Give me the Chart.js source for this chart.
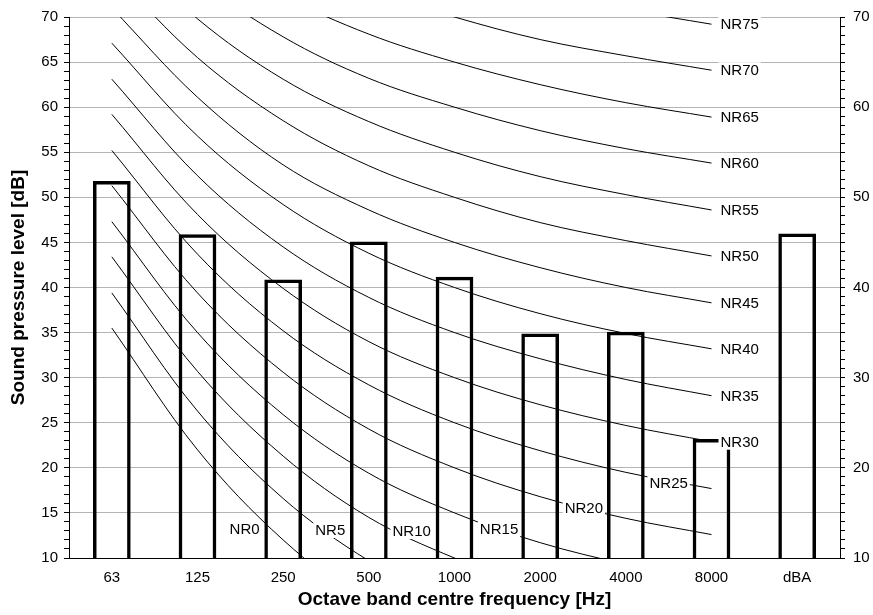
<!DOCTYPE html>
<html lang="en">
<head>
<meta charset="UTF-8">
<title>NR curves</title>
<style>
  html, body { margin: 0; padding: 0; background: #fff; }
  #wrap { width: 873px; height: 615px; }
</style>
</head>
<body>
<div id="wrap"><canvas id="nr-chart" width="873" height="615"></canvas></div>
<script src="https://cdn.jsdelivr.net/npm/chart.js@4.4.1/dist/chart.umd.min.js"></script>
<script>
// categories and measured levels
var bands = ["63", "125", "250", "500", "1000", "2000", "4000", "8000", "dBA"];
var measured = [51.8, 45.9, 40.9, 45.1, 41.2, 34.9, 35.1, 23.2, 46.0];

// NR rating curves, 63 Hz .. 8000 Hz
var nrLevels = [0, 5, 10, 15, 20, 25, 30, 35, 40, 45, 50, 55, 60, 65, 70, 75];
var nr0  = [35.5, 22.0, 12.0, 4.8, 0.0, -3.5, -6.1, -8.0];
var nr5  = [39.4, 26.3, 16.6, 9.7, 5.0, 1.6, -1.0, -2.8];
var nr10 = [43.4, 30.7, 21.3, 14.5, 10.0, 6.6, 4.2, 2.3];
var nr15 = [47.3, 35.0, 25.9, 19.4, 15.0, 11.7, 9.3, 7.4];
var nr20 = [51.3, 39.4, 30.6, 24.3, 20.0, 16.8, 14.4, 12.6];
var nr25 = [55.2, 43.7, 35.2, 29.2, 25.0, 21.9, 19.5, 17.7];
var nr30 = [59.2, 48.1, 39.9, 34.0, 30.0, 27.0, 24.7, 22.9];
var nr35 = [63.1, 52.4, 44.5, 38.9, 35.0, 32.1, 29.8, 28.0];
var nr40 = [67.1, 56.8, 49.2, 43.8, 40.0, 37.1, 34.9, 33.2];
var nr45 = [71.0, 61.1, 53.6, 48.6, 45.0, 42.2, 40.0, 38.3];
var nr50 = [75.0, 65.5, 58.5, 53.5, 50.0, 47.2, 45.2, 43.5];
var nr55 = [78.9, 69.8, 63.1, 58.4, 55.0, 52.3, 50.3, 48.6];
var nr60 = [82.9, 74.2, 67.8, 63.2, 60.0, 57.4, 55.4, 53.8];
var nr65 = [86.8, 78.5, 72.4, 68.1, 65.0, 62.5, 60.5, 58.9];
var nr70 = [90.8, 82.9, 77.1, 73.0, 70.0, 67.5, 65.7, 64.1];
var nr75 = [94.7, 87.2, 81.7, 77.9, 75.0, 72.6, 70.8, 69.2];
var nrCurves = [nr0, nr5, nr10, nr15, nr20, nr25, nr30, nr35, nr40, nr45, nr50, nr55, nr60, nr65, nr70, nr75];

// where the low NR labels sit (category index, dB); the rest sit at the 8000 end
var lowLabelAt = [[1.55, 13.2], [2.55, 13.1], [3.5, 13.0], [4.52, 13.2], [5.51, 15.6], [6.5, 18.3]];

var yTicks = [10, 70];

var FONT = '"Liberation Sans", Arial, sans-serif';

var datasets = [{
  type: 'bar',
  data: measured,
  backgroundColor: 'rgba(0,0,0,0)',
  borderColor: '#000',
  borderWidth: 3.5,
  borderSkipped: false,
  barPercentage: 0.44,
  categoryPercentage: 1,
  yAxisID: 'y'
}];
nrCurves.forEach(function (c) {
  datasets.push({
    type: 'line',
    data: c.concat([null]),
    borderColor: '#000',
    borderWidth: 1,
    pointRadius: 0,
    tension: 0.35,
    fill: false,
    yAxisID: 'y'
  });
});

// draws the NRxx labels with a white box behind them
var nrLabels = {
  id: 'nrLabels',
  afterDatasetsDraw: function (chart) {
    var ctx = chart.ctx, x = chart.scales.x, y = chart.scales.y;
    ctx.save();
    ctx.font = '15px ' + FONT;
    ctx.textBaseline = 'middle';
    nrLevels.forEach(function (nr, i) {
      var txt = 'NR' + nr;
      var w = ctx.measureText(txt).width;
      var px, py;
      if (i < lowLabelAt.length) {
        px = x.getPixelForValue(lowLabelAt[i][0]) - w / 2;
        py = y.getPixelForValue(lowLabelAt[i][1]);
      } else {
        px = x.getPixelForValue(7) + 9;
        py = y.getPixelForValue(nrCurves[i][7]);
      }
      ctx.fillStyle = '#fff';
      ctx.fillRect(px - 2, py - 8, w + 4, 16);
      ctx.fillStyle = '#000';
      ctx.textAlign = 'left';
      ctx.fillText(txt, px, py + 1);
    });
    ctx.restore();
  }
};

new Chart(document.getElementById('nr-chart'), {
  data: { labels: bands, datasets: datasets },
  plugins: [nrLabels],
  options: {
    responsive: false,
    animation: false,
    layout: { padding: { top: 15, left: 0, right: 0, bottom: 0 } },
    plugins: { legend: { display: false }, tooltip: { enabled: false } },
    scales: {
      x: {
        grid: { display: false, drawTicks: false },
        border: { color: '#000', width: 1 },
        ticks: { color: '#000', font: { family: FONT, size: 15 }, padding: 11, maxRotation: 0 },
        title: {
          display: true, text: 'Octave band centre frequency [Hz]', color: '#000',
          font: { family: FONT, size: 19, weight: 'bold' }, padding: { top: 0, bottom: 4 }
        },
        afterFit: function (s) { s.height = 57; }
      },
      y: {
        position: 'left',
        min: yTicks[0], max: yTicks[1],
        border: { color: '#000', width: 1 },
        grid: {
          color: function (c) { return c.tick.value % 5 === 0 ? '#b4b4b4' : 'rgba(0,0,0,0)'; },
          tickColor: '#000',
          tickLength: 5
        },
        ticks: {
          stepSize: 1, autoSkip: false, color: '#000', padding: 6,
          font: { family: FONT, size: 15 },
          callback: function (v) { return v % 5 === 0 ? v : ''; }
        },
        title: {
          display: true, text: 'Sound pressure level [dB]', color: '#000',
          font: { family: FONT, size: 19, weight: 'bold' }, padding: { top: 7, bottom: 0 }
        },
        afterFit: function (s) { s.width = 69; }
      },
      y2: {
        position: 'right',
        min: yTicks[0], max: yTicks[1],
        border: { color: '#000', width: 1 },
        grid: { drawOnChartArea: false, tickColor: '#000', tickLength: 5 },
        ticks: {
          stepSize: 1, autoSkip: false, color: '#000', padding: 8,
          font: { family: FONT, size: 15 },
          callback: function (v) { return v % 10 === 0 ? v : ''; }
        },
        afterFit: function (s) { s.width = 33; }
      }
    }
  }
});
</script>
</body>
</html>
